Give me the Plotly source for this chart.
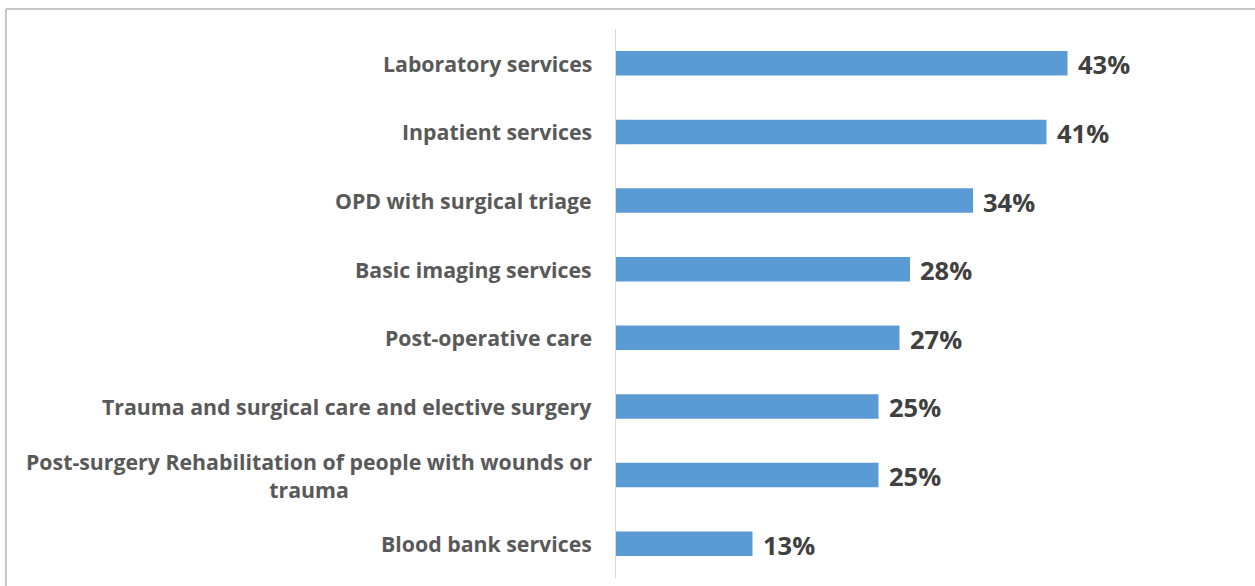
import plotly.graph_objects as go

# Share of facilities reporting each service gap (%)
services = [
    "Laboratory services",
    "Inpatient services",
    "OPD with surgical triage",
    "Basic imaging services",
    "Post-operative care",
    "Trauma and surgical care and elective surgery",
    "Post-surgery Rehabilitation of people with wounds or<br>trauma",
    "Blood bank services",
]
shares = [43, 41, 34, 28, 27, 25, 25, 13]

BAR_COLOR = "#5b9bd5"
LABEL_COLOR = "#595959"
VALUE_COLOR = "#404040"
FRAME_COLOR = "#c9c5cc"

fig = go.Figure(
    go.Bar(
        x=shares,
        y=services,
        orientation="h",
        marker=dict(color=BAR_COLOR, line=dict(width=0)),
        hoverinfo="skip",
    )
)

# Category names, right-aligned against the axis, multi-line text centred
for name in services:
    fig.add_annotation(
        x=0, xref="paper", y=name, yref="y",
        text=name, showarrow=False,
        xanchor="right", yanchor="middle", align="center",
        xshift=-22,
        font=dict(family="Open Sans", size=21.3, color=LABEL_COLOR, weight=700),
    )

# Value labels just past the end of each bar
for name, v in zip(services, shares):
    fig.add_annotation(
        x=v, xref="x", y=name, yref="y",
        text=f"{v}%", showarrow=False,
        xanchor="left", yanchor="middle",
        xshift=8, yshift=-1,
        font=dict(family="Open Sans", size=25.5, color=VALUE_COLOR, weight=700),
    )

# Thin frame along the top and left edges of the chart
fig.add_shape(type="line", xref="paper", yref="paper",
              x0=-1.162, x1=1.3, y0=1.0364, y1=1.0364,
              line=dict(color=FRAME_COLOR, width=2))
fig.add_shape(type="line", xref="paper", yref="paper",
              x0=-1.162, x1=-1.162, y0=1.0364, y1=-0.05,
              line=dict(color=FRAME_COLOR, width=2))

fig.update_layout(
    width=1255, height=586,
    margin=dict(l=616, r=114, t=29, b=8),
    paper_bgcolor="white", plot_bgcolor="white",
    bargap=0.643,
    showlegend=False,
    xaxis=dict(range=[0, 50], visible=False, fixedrange=True),
    yaxis=dict(
        autorange="reversed",
        showticklabels=False, ticks="",
        showgrid=False, zeroline=False,
        showline=True, linecolor="#d9d9d9", linewidth=1,
        fixedrange=True,
    ),
)

fig.write_html("out.html")
